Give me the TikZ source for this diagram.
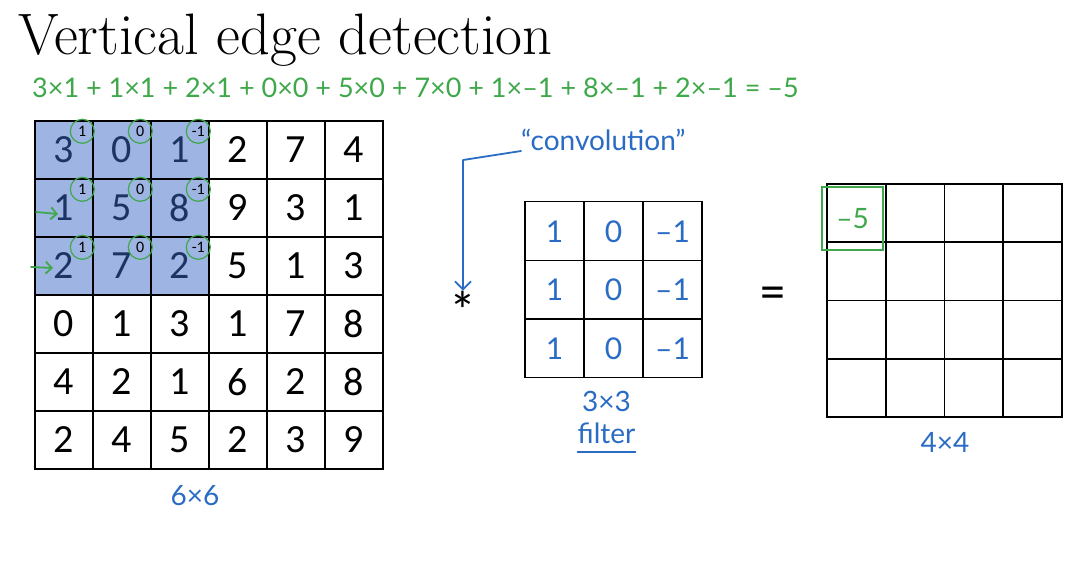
\documentclass[tikz,border=0pt]{standalone}
\usepackage{fontspec}
\setsansfont{Carlito}
\newfontfamily\handfont{Lato}
\usepackage{tikz}
\usetikzlibrary{arrows.meta,positioning}
\definecolor{cellblue}{RGB}{158,180,226}
\definecolor{navy}{RGB}{28,52,100}
\definecolor{inkblue}{RGB}{42,108,196}
\definecolor{inkgreen}{RGB}{62,168,74}

\begin{document}
\begin{tikzpicture}[
  x=1pt, y=-1pt,
  cell/.style={draw, line width=1.4pt, minimum size=58pt, inner sep=0pt, font=\sffamily\fontsize{40}{42}\selectfont},
  hi/.style={fill=cellblue, text=navy},
  lo/.style={},
  tag/.style={circle, draw=inkgreen, line width=1.2pt, minimum size=24pt, inner sep=0pt, font=\sffamily\fontsize{16}{17}\selectfont},
  hand/.style={inner sep=0pt, text=inkblue, font=\handfont\fontsize{28}{30}\selectfont},
  ink/.style={line width=1.8pt, line cap=round, line join=round},
  arr/.style={ink, -{Straight Barb[length=8pt, width=16pt]}}
]
  \useasboundingbox[fill=white] (0,0) rectangle (1091,578);

  \node[anchor=base west, inner sep=0pt, font=\fontsize{58.5}{60}\selectfont] (title) at (18,55) {Vertical edge detection};
  \node[hand, text=inkgreen, anchor=west, font=\handfont\fontsize{27}{30}\selectfont] (calc) at (32,88) {3×1 + 1×1 + 2×1 + 0×0 + 5×0 + 7×0 + 1×–1 + 8×–1 + 2×–1 = –5};

  % 6x6 input
  \foreach \vals [count=\rr] in {{3,0,1,2,7,4},{1,5,8,9,3,1},{2,7,2,5,1,3},{0,1,3,1,7,8},{4,2,1,6,2,8},{2,4,5,2,3,9}}
    \foreach \v [count=\cc] in \vals {
      \ifnum\rr<4 \ifnum\cc<4 \def\look{hi}\else\def\look{lo}\fi\else\def\look{lo}\fi
      \node[cell, \look] (a-\rr-\cc) at ({35+58*(\cc-0.5)}, {121+58*(\rr-0.5)}) {\v};
    }
  \foreach \w [count=\cc] in {1,0,-1}
    \foreach \rr in {1,2,3}
      \node[tag] (k-\rr-\cc) at ([xshift=48pt, yshift=-11pt]a-\rr-\cc.north west) {\w};

  \coordinate (p2) at (36,212);
  \coordinate (q2) at (58,214);
  \coordinate (p3) at (31,267);
  \coordinate (q3) at (53,268);
  \draw[arr, inkgreen, -{Straight Barb[length=6pt, width=12pt]}] (p2) -- (q2);
  \draw[arr, inkgreen, -{Straight Barb[length=6pt, width=12pt]}] (p3) -- (q3);

  \node[hand] (indim) at (195,496) {6×6};

  % filter
  \node[inner sep=0pt, font=\sffamily\fontsize{54}{54}\selectfont] (star) at (463,310) {*};
  \foreach \rr in {1,2,3}
    \foreach \w [count=\cc] in {1,0,–1}
      \node[cell, minimum size=59pt, hand, font=\handfont\fontsize{30}{32}\selectfont] (f-\rr-\cc) at ({525+59*(\cc-0.5)}, {202+58.5*(\rr-0.5)}) {\w};
  \node[hand, below=13pt of f-3-2, xshift=-7pt] (fdim) {3×3};
  \node[hand, below=10pt of fdim] (fname) {filter};
  \draw[ink, inkblue] ([yshift=-8pt]fname.south west) -- ([yshift=-8pt]fname.south east);

  \node[hand, anchor=west] (conv) at (521,140) {“convolution”};
  \coordinate (bend) at (463,160);
  \draw[arr, inkblue] (conv.south west) -- (bend) -- (bend |- star.north);

  % 4x4 output
  \node[inner sep=0pt, font=\sffamily\fontsize{50}{50}\selectfont] (eq) at (773,298) {=};
  \foreach \rr in {1,...,4}
    \foreach \cc in {1,...,4}
      \node[cell, minimum size=58.5pt] (o-\rr-\cc) at ({827+58.75*(\cc-0.5)}, {184+58.25*(\rr-0.5)}) {};
  \node[hand, text=inkgreen, draw=inkgreen, line width=1.8pt, minimum width=61pt, minimum height=63pt] (res) at (852.5,218.5) {–5};
  \node[hand, below=14pt of o-4-2.south east] (outdim) {4×4};
\end{tikzpicture}
\end{document}
